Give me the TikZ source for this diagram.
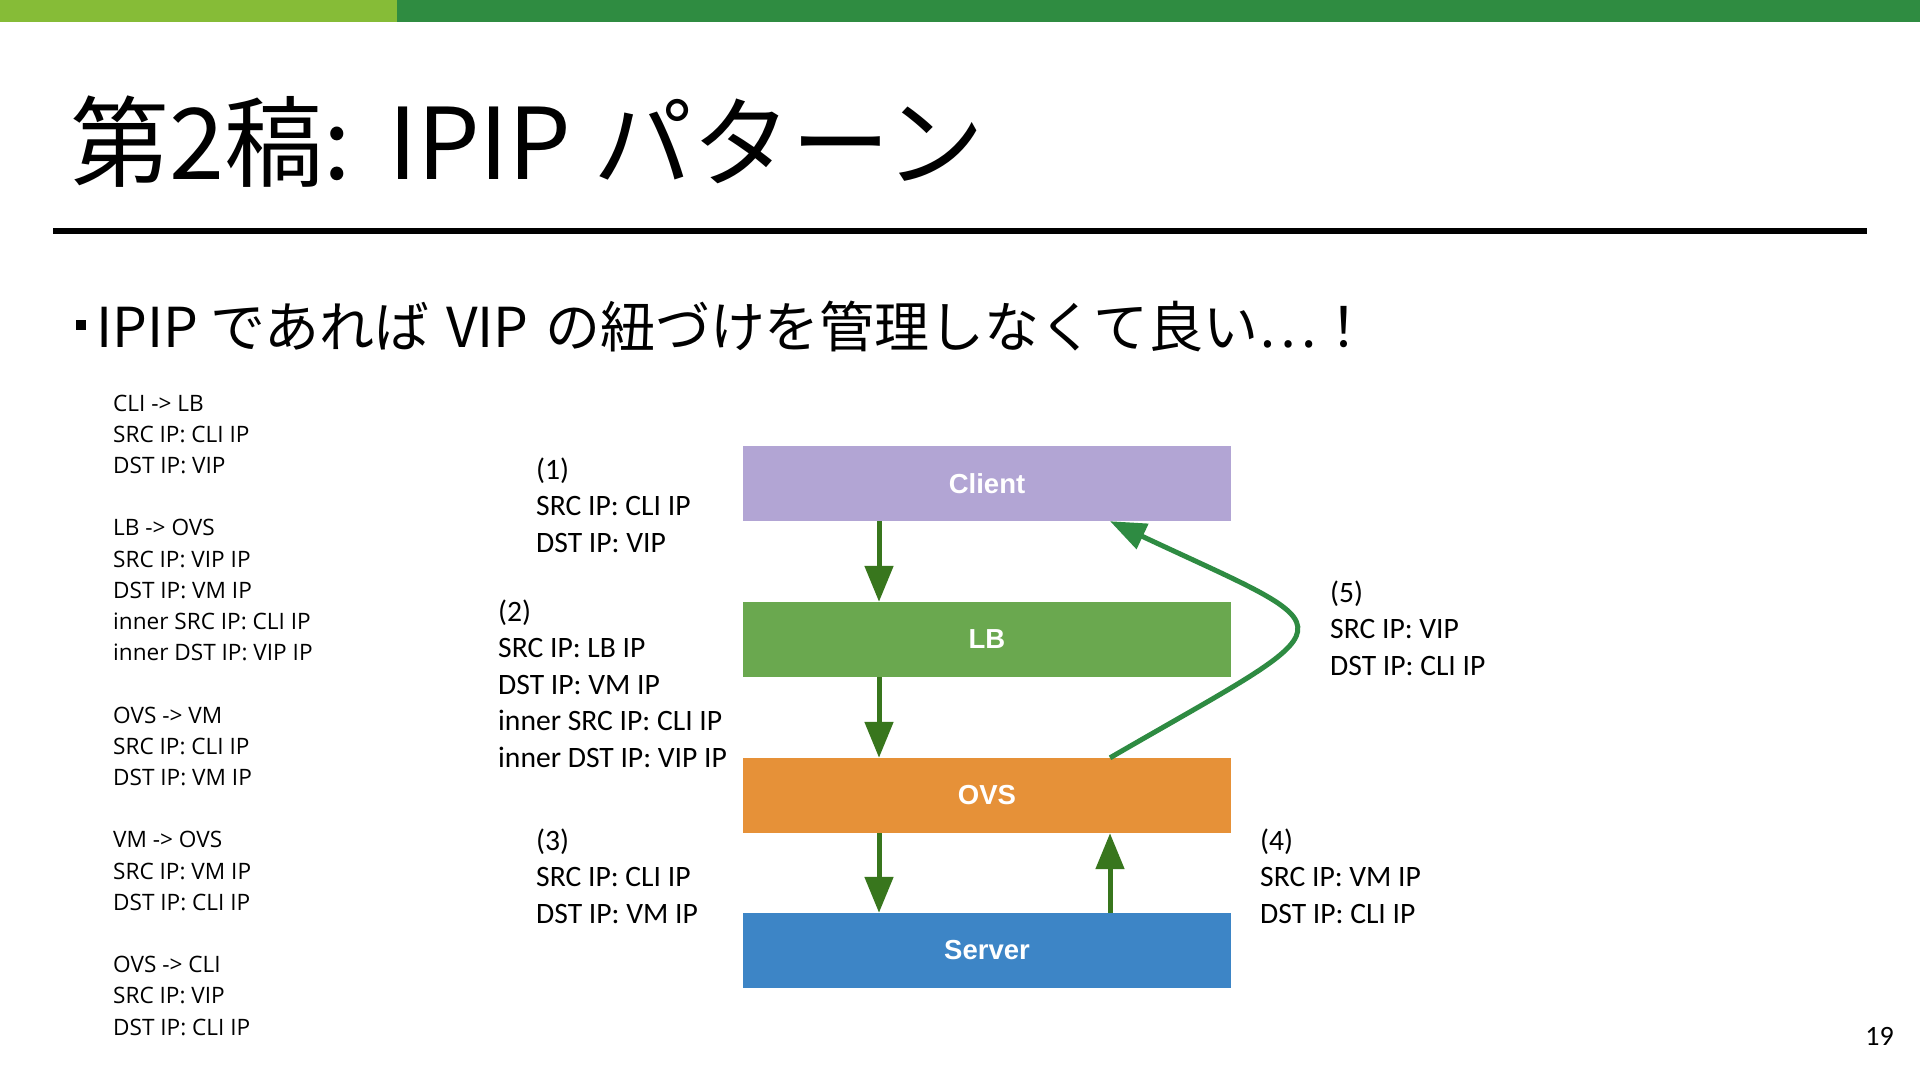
\documentclass[tikz,border=0pt]{standalone}
\usepackage{fontspec}
\usetikzlibrary{arrows.meta,calc}
\newfontfamily\jpfont{Noto Sans CJK JP}
\newfontfamily\calfont{Carlito}
\newfontfamily\osfont{Open Sans}
\newfontfamily\hvfont{Liberation Sans}
\definecolor{topdark}{RGB}{47,140,65}
\definecolor{toplight}{RGB}{134,188,55}
\definecolor{clientc}{RGB}{178,165,212}
\definecolor{lbc}{RGB}{106,168,79}
\definecolor{ovsc}{RGB}{230,145,56}
\definecolor{serverc}{RGB}{61,133,198}
\definecolor{arrowdk}{RGB}{56,118,29}
\definecolor{curveg}{RGB}{46,139,66}
\begin{document}
\begin{tikzpicture}[x=1pt,y=-1pt,
  box/.style={rectangle, minimum width=488pt, minimum height=75pt, inner sep=0pt, text=white,
    font=\hvfont\bfseries\fontsize{27.5}{27.5}\selectfont},
  flow/.style={line width=5pt, draw=arrowdk, -{Triangle[width=28pt,length=36pt]}},
  lbl/.style={anchor=base west, inner sep=0pt, font=\calfont\fontsize{29.6}{36.6}\selectfont},
  lefttext/.style={anchor=base west, inner sep=0pt, font=\osfont\fontsize{22.6}{31.2}\selectfont},
]
\useasboundingbox (0,0) rectangle (1920,1081);
\fill[white] (0,0) rectangle (1920,1081);
\fill[topdark] (0,0) rectangle (1920,22);
\fill[toplight] (0,0) rectangle (397,22);

\node[anchor=base west, inner sep=0pt, font=\jpfont\fontsize{99}{99}\selectfont] (title) at (70,179) {第2稿:\hspace{8pt} IPIP パターン};
\fill[black] (53,228) rectangle (1867,234);

\node[fill=black, minimum size=10pt, inner sep=0pt] (bul) at (81,325) {};
\node[anchor=base west, inner sep=0pt, font=\jpfont\fontsize{55}{55}\selectfont] (sub) at (96,347) {IPIP であれば\hspace{4pt} VIP\hspace{4pt} の紐づけを管理しなくて良い…！};

\node[lefttext] (left) at (113,411) {\vtop{\hbox{CLI -> LB}\hbox{SRC IP: CLI IP}\hbox{DST IP: VIP}\hbox{}%
\hbox{LB -> OVS}\hbox{SRC IP: VIP IP}\hbox{DST IP: VM IP}\hbox{inner SRC IP: CLI IP}\hbox{inner DST IP: VIP IP}\hbox{}%
\hbox{OVS -> VM}\hbox{SRC IP: CLI IP}\hbox{DST IP: VM IP}\hbox{}%
\hbox{VM -> OVS}\hbox{SRC IP: VM IP}\hbox{DST IP: CLI IP}\hbox{}%
\hbox{OVS -> CLI}\hbox{SRC IP: VIP}\hbox{DST IP: CLI IP}}};

\node[box, fill=clientc] (client) at (987,483.5) {Client};
\node[box, fill=lbc] (lb) at (987,639.5) {LB};
\node[box, fill=ovsc] (ovs) at (987,795.5) {OVS};
\node[box, fill=serverc] (server) at (987,950.5) {Server};

\coordinate (lx) at (879,0);
\coordinate (rx) at (1110,0);
\draw[flow] (client.south -| lx) -- (lb.north -| lx);
\draw[flow] (lb.south -| lx) -- (ovs.north -| lx);
\draw[flow] (ovs.south -| lx) -- (server.north -| lx);
\draw[flow] (server.north -| rx) -- (ovs.south -| rx);
\draw[line width=5pt, draw=curveg, -{Triangle[width=27pt,length=36pt]}]
  (ovs.north -| rx) .. controls +(245,-142) and +(245,115) .. (client.south -| rx);

\node[lbl] (l1) at (536,479) {\vtop{\hbox{(1)}\hbox{SRC IP: CLI IP}\hbox{DST IP: VIP}}};
\node[lbl] (l2) at (498,621) {\vtop{\hbox{(2)}\hbox{SRC IP: LB IP}\hbox{DST IP: VM IP}\hbox{inner SRC IP: CLI IP}\hbox{inner DST IP: VIP IP}}};
\node[lbl] (l3) at (536,850) {\vtop{\hbox{(3)}\hbox{SRC IP: CLI IP}\hbox{DST IP: VM IP}}};
\node[lbl] (l4) at (1260,850) {\vtop{\hbox{(4)}\hbox{SRC IP: VM IP}\hbox{DST IP: CLI IP}}};
\node[lbl] (l5) at (1330,602) {\vtop{\hbox{(5)}\hbox{SRC IP: VIP}\hbox{DST IP: CLI IP}}};

\node[anchor=base east, inner sep=0pt, font=\calfont\fontsize{28}{28}\selectfont] (pg) at (1894,1045) {19};
\end{tikzpicture}
\end{document}
